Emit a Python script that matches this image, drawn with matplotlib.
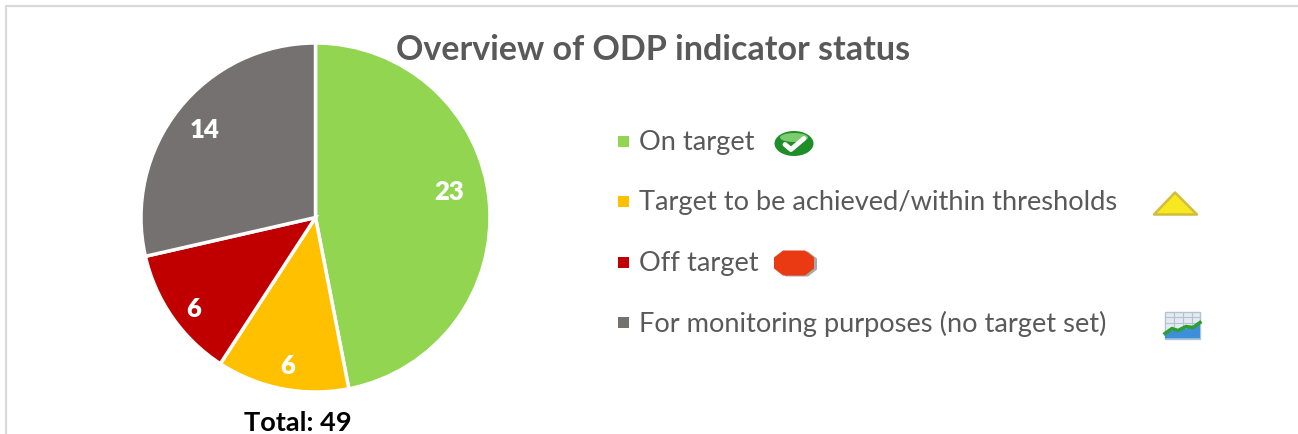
import matplotlib.pyplot as plt
from matplotlib.patches import Ellipse, Polygon, Rectangle

plt.rcParams['font.family'] = ['Lato', 'DejaVu Sans']

categories = ['On target', 'Target to be achieved/within thresholds', 'Off target',
              'For monitoring purposes (no target set)']
values = [23, 6, 6, 14]
colors = ['#92D551', '#FFC000', '#C00000', '#767171']
total_label = 'Total: 49'
title = 'Overview of ODP indicator status'

W, H = 1298, 435


def py(y):
    # picture y (from the top) to axes y, 1.5 is what the first run came out high by
    return H - y - 1.5


fig = plt.figure(figsize=(W / 100, H / 100), dpi=100)
ax = fig.add_axes([0, 0, 1, 1])

ax.pie(values, colors=colors, startangle=90, counterclock=False,
       center=(315.5, py(217)), radius=174.5, frame=True,
       wedgeprops={'edgecolor': 'white', 'linewidth': 2.5})
ax.set_xlim(0, W)
ax.set_ylim(0, H)
ax.set_aspect('equal')
ax.axis('off')

# chart frame
ax.plot([5.5, 5.5, W], [0, py(5), py(5)], color='#D9D9D9', lw=1.6)

# value labels sit where they were dragged in the original
label_pos = [(449, 191), (288, 365), (194, 308), (205, 128)]
for v, (x, y) in zip(values, label_pos):
    ax.text(x, py(y), str(v), color='white', fontsize=18.5, fontweight='heavy',
            ha='center', va='center')

ax.text(653, py(49), title, color='#595959', fontsize=24.5, fontweight='bold',
        ha='center', va='center')
ax.text(297.5, py(422), total_label, color='black', fontsize=19.5, fontweight='bold',
        ha='center', va='center')

# legend
leg_y = [141, 201, 262, 322]
for name, c, y in zip(categories, colors, leg_y):
    ax.add_patch(Rectangle((618, py(y + 5)), 11, 11, color=c, lw=0))
    ax.text(639, py(y), name, color='#595959', fontsize=19.6, ha='left', va='center')

# status icons
ax.add_patch(Ellipse((794, py(143)), 39, 25, color='#1E8F28', lw=0))
ax.add_patch(Ellipse((794, py(137)), 28, 9, color='#7CCB6E', lw=0))
ax.plot([785, 791, 804], [py(144), py(149), py(138)], color='white', lw=3.5,
        solid_capstyle='round', solid_joinstyle='round')

ax.add_patch(Polygon([(1175, py(192)), (1197, py(214)), (1154, py(214))], closed=True,
                     facecolor='#F8E820', edgecolor='#D2BC3C', lw=1.8, joinstyle='round'))

octagon = [(783, 250), (805, 250), (814, 257), (814, 268), (805, 275), (783, 275),
           (774, 268), (774, 257)]
ax.add_patch(Polygon([(x + 3, py(y + 1)) for x, y in octagon], closed=True,
                     color='#A8A8A8', lw=0))
ax.add_patch(Polygon([(x, py(y)) for x, y in octagon], closed=True, color='#E93A14', lw=0))

ax.add_patch(Rectangle((1165, py(338)), 35, 27, facecolor='#E4EAF2', edgecolor='#B5C2D0', lw=1))
for x in [1174, 1183, 1192]:
    ax.plot([x, x], [py(311), py(325)], color='#B5C2D0', lw=0.8)
for y in [316, 322]:
    ax.plot([1165, 1200], [py(y), py(y)], color='#B5C2D0', lw=0.8)
ax.add_patch(Polygon([(1165, py(338)), (1165, py(331)), (1178, py(329)), (1186, py(328)),
                      (1200, py(323)), (1200, py(338))], closed=True, color='#3C8FD8', lw=0))
ax.plot([1165, 1172, 1178, 1186, 1193, 1200],
        [py(333), py(328), py(330), py(326), py(327), py(322)], color='#2E9E32', lw=2.5)

fig.savefig('out.png', dpi=100)
